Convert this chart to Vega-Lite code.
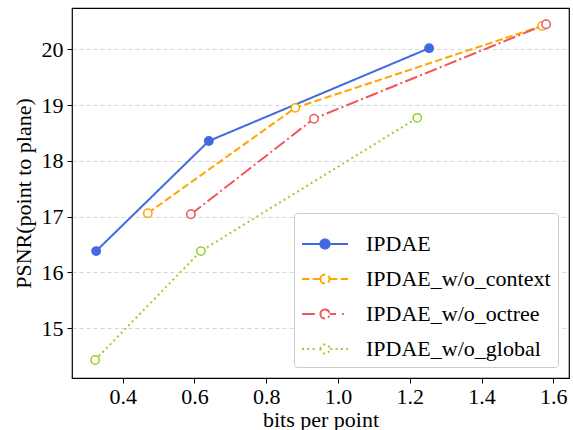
{
  "$schema": "https://vega.github.io/schema/vega-lite/v6.json",
  "width": 497,
  "height": 370,
  "autosize": {"type": "none"},
  "padding": {"left": 72, "top": 8, "right": 4, "bottom": 52},
  "background": "white",
  "config": {
    "view": {"stroke": "black", "strokeWidth": 1.2}
  },
  "data": {
    "values": [
      {"series": "IPDAE", "bpp": 0.326, "psnr": 16.38},
      {"series": "IPDAE", "bpp": 0.640, "psnr": 18.355},
      {"series": "IPDAE", "bpp": 1.254, "psnr": 20.02},
      {"series": "IPDAE_w/o_context", "bpp": 0.470, "psnr": 17.06},
      {"series": "IPDAE_w/o_context", "bpp": 0.881, "psnr": 18.95},
      {"series": "IPDAE_w/o_context", "bpp": 1.569, "psnr": 20.42},
      {"series": "IPDAE_w/o_octree", "bpp": 0.590, "psnr": 17.04},
      {"series": "IPDAE_w/o_octree", "bpp": 0.933, "psnr": 18.755},
      {"series": "IPDAE_w/o_octree", "bpp": 1.580, "psnr": 20.45},
      {"series": "IPDAE_w/o_global", "bpp": 0.323, "psnr": 14.425},
      {"series": "IPDAE_w/o_global", "bpp": 0.618, "psnr": 16.38},
      {"series": "IPDAE_w/o_global", "bpp": 1.221, "psnr": 18.77}
    ]
  },
  "encoding": {
    "x": {
      "field": "bpp", "type": "quantitative",
      "scale": {"domain": [0.2587, 1.6438], "nice": false, "zero": false},
      "axis": {
        "values": [0.4, 0.6, 0.8, 1.0, 1.2, 1.4, 1.6], "format": ".1f", "grid": false,
        "title": "bits per point",
        "domain": false, "tickColor": "black", "tickSize": 5, "tickWidth": 1,
        "labelFont": "Times New Roman", "labelFontSize": 22, "labelColor": "black", "labelPadding": 3,
        "titleFont": "Times New Roman", "titleFontSize": 22, "titleFontWeight": "normal", "titleColor": "black", "titlePadding": 2
      }
    },
    "y": {
      "field": "psnr", "type": "quantitative",
      "scale": {"domain": [14.103, 20.741], "nice": false, "zero": false},
      "axis": {
        "values": [15, 16, 17, 18, 19, 20], "format": "d",
        "grid": true, "gridDash": [4, 3], "gridColor": "#cccccc", "gridWidth": 0.8,
        "title": "PSNR(point to plane)",
        "domain": false, "tickColor": "black", "tickSize": 5, "tickWidth": 1,
        "labelFont": "Times New Roman", "labelFontSize": 22, "labelColor": "black", "labelPadding": 4,
        "titleFont": "Times New Roman", "titleFontSize": 22, "titleFontWeight": "normal", "titleColor": "black", "titlePadding": 6
      }
    }
  },
  "layer": [
    {
      "mark": {"type": "line", "strokeWidth": 2},
      "encoding": {
        "color": {
          "field": "series", "type": "nominal",
          "scale": {
            "domain": ["IPDAE", "IPDAE_w/o_context", "IPDAE_w/o_octree", "IPDAE_w/o_global"],
            "range": ["#4169E1", "#FFA500", "#F0565A", "#9ACD32"]
          },
          "legend": {
            "title": null,
            "orient": "bottom-right",
            "offset": 11,
            "fillColor": "white",
            "strokeColor": "#cccccc",
            "cornerRadius": 3,
            "padding": 7,
            "rowPadding": -11,
            "labelOffset": 17,
            "labelFont": "Times New Roman",
            "labelFontSize": 22,
            "labelColor": "black",
            "labelLimit": 400,
            "symbolStrokeWidth": 2,
            "encode": {
              "symbols": {
                "update": {
                  "shape": {"signal": "datum.value === 'IPDAE' ? 'M-1,0H-0.2M0.2,0H1M-0.2,0A0.2,0.2 0 1,1 0.2,0A0.2,0.2 0 1,1 -0.2,0' : datum.value === 'IPDAE_w/o_context' ? 'M-1,0H-0.68M-0.54,0H-0.21M0.21,0H0.54M0.68,0H1M-0.2,0A0.2,0.2 0 1,1 0.2,0A0.2,0.2 0 1,1 -0.2,0' : datum.value === 'IPDAE_w/o_octree' ? 'M-1,0H-0.4M0.2,0H0.48M0.74,0H0.82M-0.2,0A0.2,0.2 0 1,1 0.2,0A0.2,0.2 0 1,1 -0.2,0' : 'M-1,0H-0.91M-0.77,0H-0.68M-0.54,0H-0.45M0.23,0H0.32M0.46,0H0.55M0.69,0H0.78M0.92,0H1M-0.2,0A0.2,0.2 0 1,1 0.2,0A0.2,0.2 0 1,1 -0.2,0'"},
                  "fill": {"signal": "datum.value === 'IPDAE' ? '#4169E1' : 'white'"},
                  "strokeDash": {"value": [1, 0]},
                  "size": {"value": 2116},
                  "strokeWidth": {"value": 2},
                  "opacity": {"value": 1}
                }
              }
            }
          }
        },
        "strokeDash": {
          "field": "series", "type": "nominal",
          "scale": {
            "domain": ["IPDAE", "IPDAE_w/o_context", "IPDAE_w/o_octree", "IPDAE_w/o_global"],
            "range": [[1, 0], [7.4, 3.2], [12.8, 3.2, 2, 3.2], [2, 3.3]]
          }
        }
      }
    },
    {
      "mark": {"type": "point", "shape": "circle", "filled": false, "size": 70, "strokeWidth": 1.5, "opacity": 1},
      "encoding": {
        "color": {"field": "series", "type": "nominal"},
        "fill": {
          "condition": {"test": "datum.series === 'IPDAE'", "value": "#4169E1"},
          "value": "white"
        }
      }
    }
  ]
}
